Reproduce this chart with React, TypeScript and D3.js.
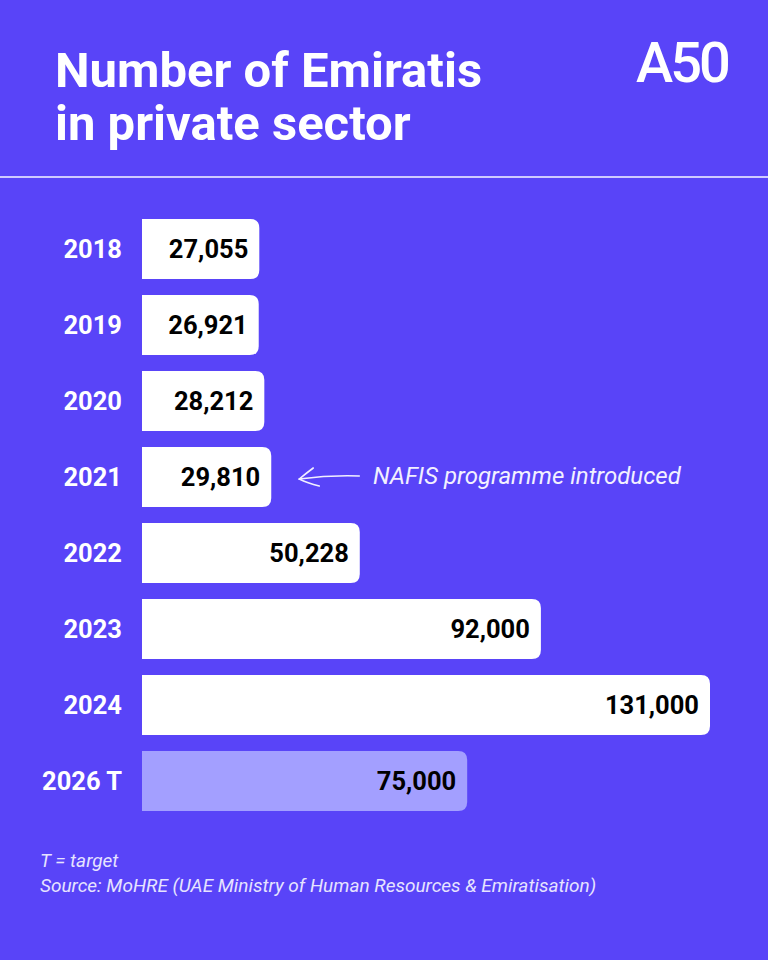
import React from 'react'
import * as d3 from 'd3'

const years = ['2018', '2019', '2020', '2021', '2022', '2023', '2024', '2026 T']
const values = [27055, 26921, 28212, 29810, 50228, 92000, 131000, 75000]
const isTarget = [false, false, false, false, false, false, false, true]
const annotation = { year: '2021', text: 'NAFIS programme introduced' }
const notes = ['T = target', 'Source: MoHRE (UAE Ministry of Human Resources & Emiratisation)']

const W = 768, H = 960
const BG = '#5944f8'
const FONT = 'Roboto, "Noto Sans", sans-serif'

// bar with square left edge and rounded right corners
function barPath(x0, x1, y, h, r) {
    return `M${x0},${y}H${x1 - r}Q${x1},${y} ${x1},${y + r}V${y + h - r}Q${x1},${y + h} ${x1 - r},${y + h}H${x0}Z`
}

export default function App() {
    const x = d3.scaleLinear([0, 131000], [142, 710])
    const y = d3.scaleBand(years, [219, 811]).paddingInner(0.21).paddingOuter(0)
    const fmt = d3.format(',')
    const bh = y.bandwidth()

    const ai = years.indexOf(annotation.year)
    const ay = y(annotation.year) + bh / 2
    const ax = x(values[ai]) + 28

    return (
        <svg width={W} height={H} style={{ position: 'absolute', left: 0, top: 0, display: 'block' }}>
            <rect width={W} height={H} fill={BG} />
            <text x={55} y={87} fill="#fff" fontFamily={FONT} fontWeight={700} fontSize={49}>Number of Emiratis</text>
            <text x={55} y={140} fill="#fff" fontFamily={FONT} fontWeight={700} fontSize={49}>in private sector</text>
            <text x={636} y={82} fill="#fff" fontFamily={FONT} fontWeight={500} fontSize={56} letterSpacing={-3}>A50</text>
            <line x1={0} x2={W} y1={177} y2={177} stroke="#cfcaff" strokeWidth={2} />

            {years.map((yr, i) => {
                const top = y(yr)
                const cy = top + bh / 2
                return (
                    <g key={yr}>
                        <text x={122} y={cy} dy="0.36em" textAnchor="end" fill="#fff"
                            fontFamily={FONT} fontWeight={700} fontSize={25.5}>{yr}</text>
                        <path d={barPath(x(0), x(values[i]), top, bh, 9)}
                            fill={isTarget[i] ? '#a39fff' : '#ffffff'} />
                        <text x={x(values[i]) - 11} y={cy} dy="0.36em" textAnchor="end" fill="#000"
                            fontFamily={FONT} fontWeight={700} fontSize={25.5}>{fmt(values[i])}</text>
                    </g>
                )
            })}

            <g stroke="#f2f0ff" strokeWidth={1.6} fill="none" strokeLinecap="round">
                <path d={`M${ax + 60},${ay - 1} Q${ax + 30},${ay - 2} ${ax},${ay + 2}`} />
                <path d={`M${ax + 14},${ay - 9} Q${ax + 6},${ay - 3} ${ax},${ay + 2} Q${ax + 8},${ay + 6} ${ax + 20},${ay + 9}`} />
            </g>
            <text x={373} y={ay - 2} dy="0.36em" fill="#f2f0ff" fontFamily={FONT} fontStyle="italic" fontSize={24}>{annotation.text}</text>

            {notes.map((n, i) => (
                <text key={n} x={40} y={867 + i * 25} fill="#e6e3ff" fontFamily={FONT} fontStyle="italic" fontSize={19}>{n}</text>
            ))}
        </svg>
    )
}
